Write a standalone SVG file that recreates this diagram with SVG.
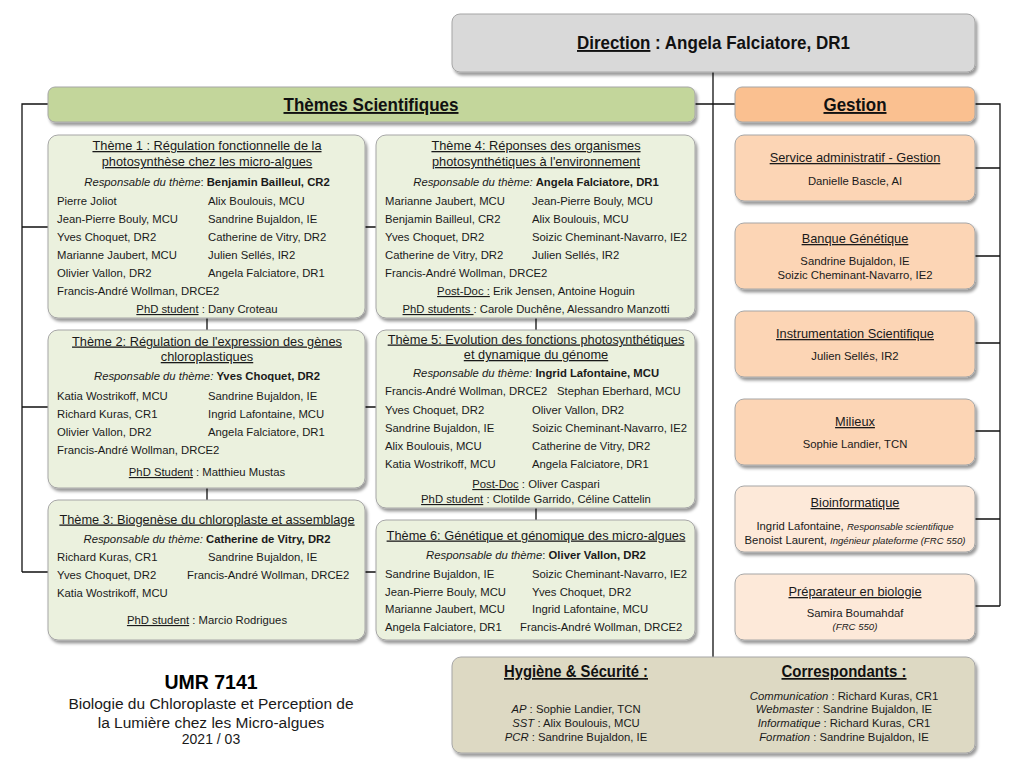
<svg xmlns="http://www.w3.org/2000/svg" width="1024" height="768" viewBox="0 0 1024 768">
<defs>
<filter id="sh" x="-5%" y="-10%" width="115%" height="130%">
<feDropShadow dx="2" dy="3" stdDeviation="1.6" flood-color="#000" flood-opacity="0.4"/>
</filter>
<style>
text{font-family:"Liberation Sans",Arial,sans-serif;font-size:11.3px;fill:#1a1a1a}
.c{text-anchor:middle}
.ti{font-size:12.8px;text-anchor:middle;text-decoration:underline}
.hd{font-family:"Liberation Sans",Arial,sans-serif;font-weight:bold;font-size:19px;text-anchor:middle;fill:#111}
.hl{font-family:"Liberation Sans",Arial,sans-serif;font-weight:bold;font-size:19px;fill:#111}
.hs{font-family:"Liberation Sans",Arial,sans-serif;font-weight:bold;font-size:17px;text-anchor:middle;fill:#111;text-decoration:underline}
.u{text-decoration:underline}
.i{font-style:italic}
.b{font-weight:bold}
.sm{font-size:9.6px;font-style:italic}
.box{stroke:#a6a6a6;stroke-width:1;filter:url(#sh)}
.th{fill:#ebf1de}
.go{fill:#fcd5b5}
.gl{fill:#fde9d9}
.ln{stroke:#111;stroke-width:1.3;fill:none}
</style>
</defs>
<rect width="1024" height="768" fill="#fff"/>

<g id="connectors">
<path class="ln" d="M713 72V657M695 104H735"/>
<path class="ln" d="M48 104H22V572M22 227H376M22 407H376M22 572H376"/>
<path class="ln" d="M207 318V500M536 318V520"/>
<path class="ln" d="M975 104H1000V606M975 168H1000M975 256H1000M975 343H1000M975 431H1000M975 519H1000M975 606H1000"/>
</g>

<g id="direction">
<rect class="box" x="452" y="14" width="523" height="58" rx="8" fill="#d9d9d9"/>
<text class="hl u" x="577" y="49" textLength="73.4" lengthAdjust="spacingAndGlyphs">Direction</text>
<text class="hl" x="655.1" y="49" textLength="194.9" lengthAdjust="spacingAndGlyphs">: Angela Falciatore, DR1</text>
</g>

<g id="themes-header">
<rect class="box" x="48" y="87" width="647" height="35" rx="7" fill="#c3d69b"/>
<text class="hd u" x="371" y="111" textLength="175" lengthAdjust="spacingAndGlyphs">Thèmes Scientifiques</text>
</g>

<g id="gestion-header">
<rect class="box" x="735" y="87" width="240" height="35" rx="7" fill="#fac090"/>
<text class="hd u" x="855" y="111" textLength="63" lengthAdjust="spacingAndGlyphs">Gestion</text>
</g>

<g id="theme1">
<rect class="box th" x="48" y="135" width="317" height="183" rx="10"/>
<text class="ti" x="207" y="150">Thème 1 : Régulation fonctionnelle de la</text>
<text class="ti" x="207" y="166">photosynthèse chez les micro-algues</text>
<text class="c" x="207" y="186"><tspan class="i">Responsable du thème</tspan>: <tspan class="b">Benjamin Bailleul, CR2</tspan></text>
<text x="57" y="205">Pierre Joliot</text><text x="208" y="205">Alix Boulouis, MCU</text>
<text x="57" y="223">Jean-Pierre Bouly, MCU</text><text x="208" y="223">Sandrine Bujaldon, IE</text>
<text x="57" y="241">Yves Choquet, DR2</text><text x="208" y="241">Catherine de Vitry, DR2</text>
<text x="57" y="259">Marianne Jaubert, MCU</text><text x="208" y="259">Julien Sellés, IR2</text>
<text x="57" y="277">Olivier Vallon, DR2</text><text x="208" y="277">Angela Falciatore, DR1</text>
<text x="57" y="295">Francis-André Wollman, DRCE2</text>
<text class="c" x="207" y="313"><tspan class="u">PhD student</tspan> : Dany Croteau</text>
</g>

<g id="theme4">
<rect class="box th" x="376" y="135" width="319" height="183" rx="10"/>
<text class="ti" x="536" y="150">Thème 4: Réponses des organismes</text>
<text class="ti" x="536" y="166">photosynthétiques à l'environnement</text>
<text class="c" x="536" y="186"><tspan class="i">Responsable du thème:</tspan> <tspan class="b">Angela Falciatore, DR1</tspan></text>
<text x="385" y="205">Marianne Jaubert, MCU</text><text x="532" y="205">Jean-Pierre Bouly, MCU</text>
<text x="385" y="223">Benjamin Bailleul, CR2</text><text x="532" y="223">Alix Boulouis, MCU</text>
<text x="385" y="241">Yves Choquet, DR2</text><text x="532" y="241">Soizic Cheminant-Navarro, IE2</text>
<text x="385" y="259">Catherine de Vitry, DR2</text><text x="532" y="259">Julien Sellés, IR2</text>
<text x="385" y="277">Francis-André Wollman, DRCE2</text>
<text class="c" x="536" y="295"><tspan class="u">Post-Doc :</tspan> Erik Jensen, Antoine Hoguin</text>
<text class="c" x="536" y="313"><tspan class="u">PhD students </tspan>: Carole Duchêne, Alessandro Manzotti</text>
</g>

<g id="theme2">
<rect class="box th" x="48" y="330" width="317" height="158" rx="10"/>
<text class="ti" x="207" y="345.5">Thème 2: Régulation de l'expression des gènes</text>
<text class="ti" x="207" y="361">chloroplastiques</text>
<text class="c" x="207" y="380"><tspan class="i">Responsable du thème:</tspan> <tspan class="b">Yves Choquet, DR2</tspan></text>
<text x="57" y="400">Katia Wostrikoff, MCU</text><text x="208" y="400">Sandrine Bujaldon, IE</text>
<text x="57" y="418">Richard Kuras, CR1</text><text x="208" y="418">Ingrid Lafontaine, MCU</text>
<text x="57" y="436">Olivier Vallon, DR2</text><text x="208" y="436">Angela Falciatore, DR1</text>
<text x="57" y="454">Francis-André Wollman, DRCE2</text>
<text class="c" x="207" y="476"><tspan class="u">PhD Student</tspan> : Matthieu Mustas</text>
</g>

<g id="theme5">
<rect class="box th" x="376" y="330" width="319" height="178" rx="10"/>
<text class="ti" x="536" y="343.5">Thème 5: Evolution des fonctions photosynthétiques</text>
<text class="ti" x="536" y="359">et dynamique du génome</text>
<text class="c" x="536" y="377"><tspan class="i">Responsable du thème:</tspan> <tspan class="b">Ingrid Lafontaine, MCU</tspan></text>
<text x="385" y="395">Francis-André Wollman, DRCE2</text><text x="557" y="395">Stephan Eberhard, MCU</text>
<text x="385" y="414">Yves Choquet, DR2</text><text x="532" y="414">Oliver Vallon, DR2</text>
<text x="385" y="432">Sandrine Bujaldon, IE</text><text x="532" y="432">Soizic Cheminant-Navarro, IE2</text>
<text x="385" y="450">Alix Boulouis, MCU</text><text x="532" y="450">Catherine de Vitry, DR2</text>
<text x="385" y="468">Katia Wostrikoff, MCU</text><text x="532" y="468">Angela Falciatore, DR1</text>
<text class="c" x="536" y="488"><tspan class="u">Post-Doc</tspan> : Oliver Caspari</text>
<text class="c" x="536" y="503"><tspan class="u">PhD student</tspan> : Clotilde Garrido, Céline Cattelin</text>
</g>

<g id="theme3">
<rect class="box th" x="48" y="500" width="317" height="140" rx="10"/>
<text class="ti" x="207" y="523.5">Thème 3: Biogenèse du chloroplaste et assemblage</text>
<text class="c" x="207" y="543"><tspan class="i">Responsable du thème:</tspan> <tspan class="b">Catherine de Vitry, DR2</tspan></text>
<text x="57" y="561">Richard Kuras, CR1</text><text x="208" y="561">Sandrine Bujaldon, IE</text>
<text x="57" y="579">Yves Choquet, DR2</text><text x="187" y="579">Francis-André Wollman, DRCE2</text>
<text x="57" y="597">Katia Wostrikoff, MCU</text>
<text class="c" x="207" y="624"><tspan class="u">PhD student</tspan> : Marcio Rodrigues</text>
</g>

<g id="theme6">
<rect class="box th" x="376" y="520" width="319" height="120" rx="10"/>
<text class="ti" x="536" y="539.5">Thème 6: Génétique et génomique des micro-algues</text>
<text class="c" x="536" y="559"><tspan class="i">Responsable du thème</tspan>: <tspan class="b">Oliver Vallon, DR2</tspan></text>
<text x="385" y="578">Sandrine Bujaldon, IE</text><text x="532" y="578">Soizic Cheminant-Navarro, IE2</text>
<text x="385" y="596">Jean-Pierre Bouly, MCU</text><text x="532" y="596">Yves Choquet, DR2</text>
<text x="385" y="613">Marianne Jaubert, MCU</text><text x="532" y="613">Ingrid Lafontaine, MCU</text>
<text x="385" y="631">Angela Falciatore, DR1</text><text x="520" y="631">Francis-André Wollman, DRCE2</text>
</g>

<g id="service-admin">
<rect class="box go" x="735" y="135" width="240" height="66" rx="9"/>
<text class="ti" x="855" y="162">Service administratif - Gestion</text>
<text class="c" x="855" y="185">Danielle Bascle, AI</text>
</g>

<g id="banque-genetique">
<rect class="box go" x="735" y="223" width="240" height="66" rx="9"/>
<text class="ti" x="855" y="243">Banque Génétique</text>
<text class="c" x="855" y="265">Sandrine Bujaldon, IE</text>
<text class="c" x="855" y="279">Soizic Cheminant-Navarro, IE2</text>
</g>

<g id="instrumentation">
<rect class="box go" x="735" y="311" width="240" height="66" rx="9"/>
<text class="ti" x="855" y="338">Instrumentation Scientifique</text>
<text class="c" x="855" y="360">Julien Sellés, IR2</text>
</g>

<g id="milieux">
<rect class="box go" x="735" y="399" width="240" height="66" rx="9"/>
<text class="ti" x="855" y="426">Milieux</text>
<text class="c" x="855" y="448">Sophie Landier, TCN</text>
</g>

<g id="bioinformatique">
<rect class="box gl" x="735" y="486" width="240" height="66" rx="9"/>
<text class="ti" x="855" y="507">Bioinformatique</text>
<text class="c" x="855" y="530">Ingrid Lafontaine, <tspan class="sm">Responsable  scientifique</tspan></text>
<text class="c" x="855" y="544">Benoist Laurent, <tspan class="sm">Ingénieur plateforme (FRC 550)</tspan></text>
</g>

<g id="preparateur">
<rect class="box gl" x="735" y="574" width="240" height="66" rx="9"/>
<text class="ti" x="855" y="596">Préparateur en biologie</text>
<text class="c" x="855" y="617">Samira Boumahdaf</text>
<text class="c sm" x="855" y="630">(FRC 550)</text>
</g>

<g id="hygiene-correspondants">
<rect class="box" x="452" y="657" width="523" height="96" rx="9" fill="#ddd9c3"/>
<text class="hs" x="576" y="677" textLength="144" lengthAdjust="spacingAndGlyphs">Hygiène &amp; Sécurité :</text>
<text class="hs" x="844" y="677" textLength="125" lengthAdjust="spacingAndGlyphs">Correspondants :</text>
<text class="c" x="576" y="713"><tspan class="i">AP</tspan> : Sophie Landier, TCN</text>
<text class="c" x="576" y="727"><tspan class="i">SST</tspan> : Alix Boulouis, MCU</text>
<text class="c" x="576" y="741"><tspan class="i">PCR</tspan> : Sandrine Bujaldon, IE</text>
<text class="c" x="844" y="700"><tspan class="i">Communication</tspan> : Richard Kuras, CR1</text>
<text class="c" x="844" y="713"><tspan class="i">Webmaster</tspan> : Sandrine Bujaldon, IE</text>
<text class="c" x="844" y="727"><tspan class="i">Informatique</tspan> : Richard Kuras, CR1</text>
<text class="c" x="844" y="741"><tspan class="i">Formation</tspan> : Sandrine Bujaldon, IE</text>
</g>

<g id="umr">
<text class="c b" x="211" y="689" style="font-size:19.5px;fill:#000">UMR 7141</text>
<text class="c" x="211" y="709" style="font-size:15.5px">Biologie du Chloroplaste et Perception de</text>
<text class="c" x="211" y="727.5" style="font-size:15.5px">la Lumière chez les Micro-algues</text>
<text class="c" x="211" y="744" style="font-size:14px">2021 / 03</text>
</g>
</svg>
